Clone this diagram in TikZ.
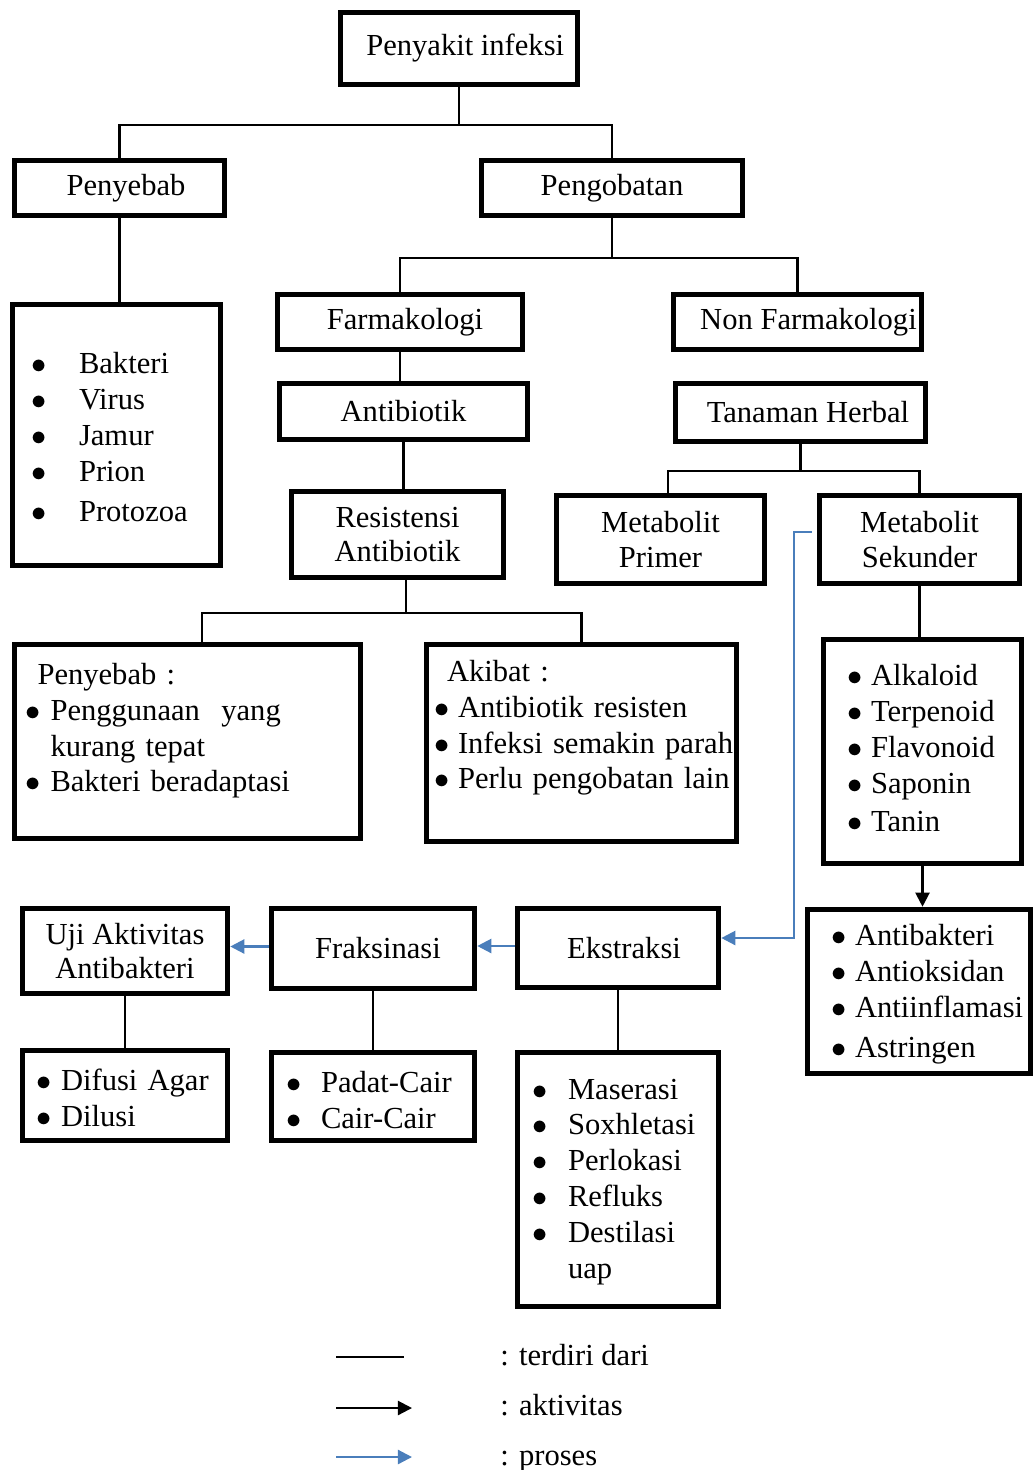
\documentclass[tikz,border=0pt]{standalone}
\usepackage{fontspec}
\setmainfont{Liberation Serif}
\usepackage{tikz}
\usetikzlibrary{arrows.meta}

\definecolor{biru}{RGB}{74,126,187}
\newcommand{\teks}{\fontsize{17.4}{19.4}\selectfont}
\newcommand{\teksdaftar}{\fontsize{17.4}{20.4}\selectfont}
\newcommand{\butir}{$\bullet$}

\begin{document}
\begin{tikzpicture}[x=0.02cm, y=-0.02cm,
    kotak/.style={draw, line width=3.2pt, inner sep=0pt, align=center, font=\teks},
    daftar/.style={kotak, align=left, font=\teksdaftar},
    garis/.style={line width=1.2pt},
    aktif/.style={line width=1.2pt, -{Triangle[length=8pt, width=8pt]}},
    proses/.style={line width=1.3pt, biru, -{Triangle[length=8pt, width=8pt]}}]
    \useasboundingbox (0,0) rectangle (1033,1470);

    % top levels
    \node[kotak, minimum width=4.74cm, minimum height=1.44cm] (infeksi) at (459,48.5) {\hspace*{0.25cm}Penyakit infeksi};
    \node[kotak, minimum width=4.2cm, minimum height=1.1cm] (penyebab) at (119.5,188) {\hspace*{0.26cm}Penyebab};
    \node[kotak, minimum width=5.22cm, minimum height=1.1cm] (pengobatan) at (612,188) {Pengobatan};

    \node[daftar, minimum width=4.16cm, minimum height=5.22cm, inner xsep=0.37cm, text width=3.42cm] (sebablist) at (116.5,435) {%
        \begin{tabular}{@{}p{0.96cm}@{}l@{}}
            \noalign{\vskip 0.22cm}
            \butir & Bakteri\\
            \butir & Virus\\
            \butir & Jamur\\
            \butir & Prion\\[0.08cm]
            \butir & Protozoa
        \end{tabular}};

    \node[kotak, minimum width=4.9cm, minimum height=1.1cm] (farma) at (400,322) {\hspace*{0.2cm}Farmakologi};
    \node[kotak, minimum width=4.96cm, minimum height=1.1cm] (nonfarma) at (797.5,322) {\hspace*{0.44cm}Non Farmakologi};
    \node[kotak, minimum width=4.96cm, minimum height=1.12cm] (antibiotik) at (403.5,411.5) {Antibiotik};
    \node[kotak, minimum width=5cm, minimum height=1.16cm] (herbal) at (800.5,412.5) {\hspace*{0.3cm}Tanaman Herbal};
    \node[kotak, minimum width=4.24cm, minimum height=1.72cm] (resistensi) at (397.5,534.5) {Resistensi\\Antibiotik};
    \node[kotak, minimum width=4.16cm, minimum height=1.76cm] (primer) at (660.5,539.5) {Metabolit\\Primer};
    \node[kotak, minimum width=4cm, minimum height=1.76cm] (sekunder) at (919.5,539.5) {Metabolit\\Sekunder};

    % resistensi
    \node[daftar, minimum width=6.92cm, minimum height=3.88cm, inner xsep=0.22cm, text width=6.48cm] (sebabres) at (187.5,741.5) {%
        \begin{tabular}{@{}p{0.5cm}@{}l@{}}
            \multicolumn{2}{@{\hspace{0.24cm}}l@{}}{Penyebab :}\\
            \butir & Penggunaan\hspace{0.7em}yang\\
                   & kurang tepat\\
            \butir & Bakteri beradaptasi\\[0.42cm]
        \end{tabular}};
    \node[daftar, minimum width=6.2cm, minimum height=3.94cm, inner xsep=0.15cm, text width=5.9cm] (akibat) at (581.5,743) {%
        \begin{tabular}{@{}p{0.48cm}@{}l@{}}
            \multicolumn{2}{@{\hspace{0.26cm}}l@{}}{Akibat :}\\
            \butir & Antibiotik resisten\\
            \butir & Infeksi semakin parah\\
            \butir & Perlu pengobatan lain\\[0.6cm]
        \end{tabular}};

    % senyawa
    \node[daftar, minimum width=3.96cm, minimum height=4.48cm, inner xsep=0.47cm, text width=3.02cm] (senyawa) at (922.5,751.5) {%
        \begin{tabular}{@{}p{0.48cm}@{}l@{}}
            \butir & Alkaloid\\
            \butir & Terpenoid\\
            \butir & Flavonoid\\
            \butir & Saponin\\[0.04cm]
            \butir & Tanin
        \end{tabular}};
    \node[daftar, minimum width=4.46cm, minimum height=3.28cm, inner xsep=0.47cm, text width=3.52cm] (aktivitas) at (919,991.5) {%
        \begin{tabular}{@{}p{0.48cm}@{}l@{}}
            \noalign{\vskip 0.12cm}
            \butir & Antibakteri\\
            \butir & Antioksidan\\
            \butir & Antiinflamasi\\[0.08cm]
            \butir & Astringen
        \end{tabular}};

    % proses
    \node[kotak, minimum width=4.1cm, minimum height=1.7cm] (uji) at (125,951) {Uji Aktivitas\\Antibakteri};
    \node[kotak, minimum width=4.06cm, minimum height=1.6cm] (fraksinasi) at (373,948.5) {\hspace*{0.2cm}Fraksinasi};
    \node[kotak, minimum width=4.02cm, minimum height=1.58cm] (ekstraksi) at (618,948) {\hspace*{0.24cm}Ekstraksi};

    \node[daftar, minimum width=4.1cm, minimum height=1.8cm, inner xsep=0.27cm, text width=3.56cm] (difusi) at (125,1095.5) {%
        \begin{tabular}{@{}p{0.5cm}@{}l@{}}
            \noalign{\vskip 0.22cm}
            \butir & Difusi Agar\\
            \butir & Dilusi
        \end{tabular}};
    \node[daftar, minimum width=4.06cm, minimum height=1.76cm, inner xsep=0.29cm, text width=3.48cm] (padat) at (373,1096.5) {%
        \begin{tabular}{@{}p{0.7cm}@{}l@{}}
            \noalign{\vskip 0.26cm}
            \butir & Padat-Cair\\
            \butir & Cair-Cair
        \end{tabular}};
    \node[daftar, minimum width=4.02cm, minimum height=5.08cm, inner xsep=0.29cm, text width=3.44cm] (metode) at (618,1179.5) {%
        \begin{tabular}{@{}p{0.72cm}@{}l@{}}
            \noalign{\vskip 0.08cm}
            \butir & Maserasi\\
            \butir & Soxhletasi\\
            \butir & Perlokasi\\
            \butir & Refluks\\
            \butir & Destilasi\\
                   & uap
        \end{tabular}};

    % terdiri dari
    \draw[garis] (infeksi.south) -- ++(0,37.5) coordinate (j1);
    \draw[garis] (penyebab.north) |- (j1) -| (pengobatan.north);
    \draw[garis] (penyebab.south) -- (penyebab.south |- sebablist.north);
    \draw[garis] (pengobatan.south) -- ++(0,40) coordinate (j2);
    \draw[garis] (farma.north) |- (j2) -| (nonfarma.north);
    \draw[garis] (farma.south) -- (farma.south |- antibiotik.north);
    \draw[garis] (antibiotik.south) -- (antibiotik.south |- resistensi.north);
    \draw[garis] ([xshift=0.17cm]resistensi.south) -- ++(0,32.5) coordinate (j3);
    \draw[garis] ([xshift=0.29cm]sebabres.north) |- (j3) -| (akibat.north);
    \draw[garis] (herbal.south) -- ++(0,26.5) coordinate (j4);
    \draw[garis] ([xshift=0.15cm]primer.north) |- (j4) -| (sekunder.north);
    \draw[garis] (sekunder.south) -- (sekunder.south |- senyawa.north);
    \draw[garis] (uji.south) -- (difusi.north);
    \draw[garis] (fraksinasi.south) -- (padat.north);
    \draw[garis] (ekstraksi.south) -- (metode.north);

    % aktivitas dan proses
    \draw[aktif] (senyawa.south) -- (senyawa.south |- aktivitas.north);
    \draw[proses, shorten <=0.1cm] ([yshift=0.15cm]sekunder.west) -- ++(-23,0) |- ([yshift=0.2cm]ekstraksi.east);
    \draw[proses] ([yshift=0.04cm]ekstraksi.west) -- ([yshift=0.04cm]ekstraksi.west -| fraksinasi.east);
    \draw[proses] ([yshift=0.04cm]fraksinasi.west) -- ([yshift=0.04cm]fraksinasi.west -| uji.east);

    % keterangan
    \coordinate (ka1) at (336,1357);
    \coordinate (ka2) at (404,1357);
    \coordinate (kb1) at (336,1408);
    \coordinate (kb2) at (412,1408);
    \coordinate (kc1) at (336,1457);
    \coordinate (kc2) at (412,1457);
    \draw[garis] (ka1) -- (ka2);
    \draw[aktif] (kb1) -- (kb2);
    \draw[proses] (kc1) -- (kc2);
    \node[anchor=base west, inner sep=0pt, font=\teks] (ket1) at (500,1365) {: terdiri dari};
    \node[anchor=base west, inner sep=0pt, font=\teks] (ket2) at (500,1415) {: aktivitas};
    \node[anchor=base west, inner sep=0pt, font=\teks] (ket3) at (500,1465) {: proses};
\end{tikzpicture}
\end{document}
